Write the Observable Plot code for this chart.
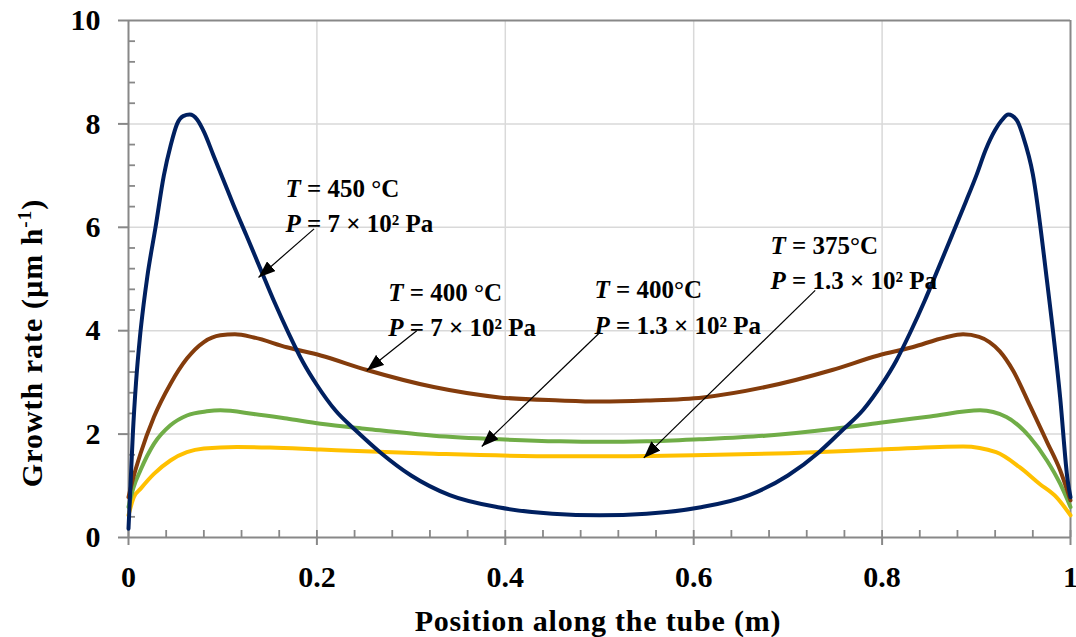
<!DOCTYPE html>
<html><head><meta charset="utf-8">
<script src="https://cdn.jsdelivr.net/npm/d3@7"></script>
<script src="https://cdn.jsdelivr.net/npm/@observablehq/plot@0.6"></script>
<style>
html,body{margin:0;padding:0;background:#fff;}
#chart svg{display:block;}
</style></head><body><div id="chart"></div>
<script>
// ---- data ----
const xTicks = [0, 0.2, 0.4, 0.6, 0.8, 1];
const yTicks = [0, 2, 4, 6, 8, 10];
const xGrid = [0.2, 0.4, 0.6, 0.8];
const yGrid = [2, 4, 6, 8];
const xMinor = d3.range(0, 1.0001, 0.04);
const yMinor = d3.range(0, 10.001, 0.4).filter(v => Math.abs(v / 2 - Math.round(v / 2)) > 0.01);

// T = 450 °C, P = 7 × 10² Pa
const xBlue = [0, 0.0021, 0.0046, 0.008, 0.012, 0.016, 0.02, 0.0287, 0.0375, 0.045, 0.0516, 0.058, 0.065, 0.073, 0.08, 0.09, 0.1, 0.111, 0.125, 0.14, 0.155, 0.17, 0.185, 0.2, 0.22, 0.2425, 0.267, 0.3, 0.341, 0.394, 0.45, 0.5, 0.55, 0.606, 0.659, 0.7, 0.733, 0.7575, 0.78, 0.8, 0.815, 0.83, 0.845, 0.86, 0.875, 0.889, 0.9, 0.91, 0.92, 0.927, 0.934, 0.943, 0.95, 0.96, 0.975, 0.989, 0.997, 1.0];
const yBlue = [0.17, 1.0, 2.0, 3.0, 3.85, 4.5, 5.05, 6.0, 7.0, 7.6, 8.0, 8.15, 8.18, 8.08, 7.85, 7.4, 6.95, 6.45, 5.85, 5.2, 4.55, 3.95, 3.4, 2.95, 2.45, 2.05, 1.65, 1.2, 0.82, 0.58, 0.46, 0.43, 0.46, 0.58, 0.82, 1.2, 1.65, 2.07, 2.47, 2.97, 3.42, 3.97, 4.57, 5.22, 5.88, 6.5, 7.0, 7.5, 7.88, 8.07, 8.18, 8.07, 7.74, 7.03, 4.97, 2.71, 1.10, 0.78];

// T = 400 °C, P = 7 × 10² Pa
const xBrown = [0, 0.005, 0.0127, 0.027, 0.0445, 0.062, 0.08, 0.0975, 0.113, 0.133, 0.168, 0.204, 0.253, 0.324, 0.394, 0.458, 0.5, 0.55, 0.61, 0.676, 0.747, 0.796, 0.832, 0.867, 0.886, 0.903, 0.914, 0.925, 0.939, 0.957, 0.975, 0.989, 1.0];
const yBrown = [0.78, 1.15, 1.62, 2.33, 2.97, 3.46, 3.78, 3.91, 3.93, 3.87, 3.68, 3.52, 3.24, 2.91, 2.71, 2.65, 2.63, 2.65, 2.71, 2.91, 3.24, 3.52, 3.68, 3.87, 3.93, 3.88, 3.78, 3.6, 3.23, 2.55, 1.85, 1.30, 0.72];

// T = 400 °C, P = 1.3 × 10² Pa
const xGreen = [0, 0.005, 0.0127, 0.027, 0.0445, 0.062, 0.083, 0.0975, 0.133, 0.168, 0.204, 0.253, 0.324, 0.394, 0.458, 0.5, 0.55, 0.606, 0.676, 0.747, 0.798, 0.851, 0.904, 0.932, 0.957, 0.975, 0.989, 1.0];
const yGreen = [0.59, 0.95, 1.30, 1.81, 2.17, 2.36, 2.44, 2.46, 2.39, 2.30, 2.20, 2.10, 1.97, 1.90, 1.86, 1.85, 1.86, 1.90, 1.97, 2.10, 2.22, 2.34, 2.46, 2.33, 1.94, 1.49, 1.04, 0.59];

// T = 375 °C, P = 1.3 × 10² Pa
const xYellow = [0, 0.0056, 0.0127, 0.027, 0.0445, 0.062, 0.08, 0.115, 0.15, 0.204, 0.324, 0.458, 0.5, 0.6, 0.7, 0.798, 0.886, 0.921, 0.946, 0.967, 0.985, 1.0];
const yYellow = [0.43, 0.78, 0.94, 1.23, 1.49, 1.65, 1.72, 1.75, 1.74, 1.70, 1.62, 1.57, 1.57, 1.59, 1.63, 1.70, 1.76, 1.65, 1.36, 1.04, 0.78, 0.43];

// annotations (data coordinates)
const noteText = ["T = 450 °C", "P = 7 × 10² Pa", "T = 400 °C", "P = 7 × 10² Pa", "T = 400°C", "P = 1.3 × 10² Pa", "T = 375°C", "P = 1.3 × 10² Pa"];
const noteX = [0.1667, 0.1667, 0.2757, 0.2757, 0.4947, 0.4947, 0.6815, 0.6815];
const noteY = [6.58, 5.90, 4.58, 3.89, 4.64, 3.94, 5.49, 4.81];
const arrowX1 = [0.197, 0.306, 0.499, 0.729];
const arrowY1 = [5.97, 4.0, 3.94, 4.78];
const arrowX2 = [0.138, 0.253, 0.375, 0.547];
const arrowY2 = [5.03, 3.23, 1.76, 1.54];

// ---- build ----
const FONT = "'Liberation Serif', 'Times New Roman', serif";
const rows = (xs, ys) => xs.map((x, i) => ({x, y: ys[i]}));
const notes = noteText.map((t, i) => ({text: t, x: noteX[i], y: noteY[i]}));
const arrows = arrowX1.map((x1, i) => ({x1, y1: arrowY1[i], x2: arrowX2[i], y2: arrowY2[i]}));
const AX = "#888888";
const lineOpts = (c) => ({x: "x", y: "y", stroke: c, strokeWidth: 4, curve: "monotone-x"});

const plot = Plot.plot({
  width: 1076, height: 637,
  marginLeft: 128, marginRight: 6, marginTop: 20, marginBottom: 100,
  style: {fontFamily: FONT, background: "white", overflow: "visible"},
  x: {domain: [0, 1]},
  y: {domain: [0, 10]},
  marks: [
    Plot.gridX(xGrid, {stroke: "#d9d9d9", strokeOpacity: 1, strokeWidth: 1.5}),
    Plot.gridY(yGrid, {stroke: "#d9d9d9", strokeOpacity: 1, strokeWidth: 1.5}),
    Plot.tickX(xMinor, {x: d => d, stroke: AX, strokeWidth: 1.8, insetTop: 510}),
    Plot.tickY(yMinor, {y: d => d, stroke: AX, strokeWidth: 1.8, insetRight: 935}),
    Plot.ruleY([10], {stroke: AX, strokeWidth: 2}),
    Plot.ruleX([1], {stroke: AX, strokeWidth: 2}),
    Plot.ruleX([0], {stroke: AX, strokeWidth: 2}),
    Plot.ruleY([0], {stroke: AX, strokeWidth: 2}),
    Plot.axisX(xTicks, {tickSize: 8, tickPadding: 20, tickFormat: d => String(d), fontSize: 30, fontWeight: "bold", stroke: AX, strokeWidth: 2, fill: "black", label: null}),
    Plot.axisY(yTicks, {tickSize: 10, tickPadding: 18, tickFormat: d => String(d), fontSize: 30, fontWeight: "bold", stroke: AX, strokeWidth: 2, fill: "black", label: null}),
    Plot.line(rows(xYellow, yYellow), lineOpts("#FFC000")),
    Plot.line(rows(xGreen, yGreen), lineOpts("#70AD47")),
    Plot.line(rows(xBrown, yBrown), lineOpts("#843C0C")),
    Plot.line(rows(xBlue, yBlue), lineOpts("#002060")),
    Plot.link(arrows, {x1: "x1", y1: "y1", x2: "x2", y2: "y2", stroke: "black", strokeWidth: 1.2}),
    Plot.text(notes, {x: "x", y: "y", text: "text", textAnchor: "start", lineAnchor: "bottom", fontSize: 25, fontWeight: "bold", fill: "black"})
  ]
});

document.getElementById("chart").appendChild(plot);

// ---- post-process: arrowheads, italics, axis titles ----
const svg = d3.select(plot);
const defs = svg.append("defs");
defs.append("marker").attr("id", "ahead")
  .attr("viewBox", "0 0 17 13").attr("refX", 17).attr("refY", 6.5)
  .attr("markerWidth", 17).attr("markerHeight", 13)
  .attr("markerUnits", "userSpaceOnUse").attr("orient", "auto")
  .append("path").attr("d", "M0,0L17,6.5L0,13Z").attr("fill", "black");
svg.selectAll('g[aria-label="link"] path').attr("marker-end", "url(#ahead)");

svg.selectAll('g[aria-label="text"] text').each(function () {
  const t = this.textContent;
  const m = t.match(/^([TP])( = .*)$/);
  if (m) {
    const el = d3.select(this);
    el.text("");
    el.append("tspan").attr("font-style", "italic").text(m[1]);
    el.append("tspan").text(m[2]);
  }
});

svg.append("text")
  .attr("x", 598).attr("y", 631)
  .attr("text-anchor", "middle")
  .attr("font-family", FONT).attr("font-size", 30).attr("font-weight", "bold")
  .attr("letter-spacing", 0.8).attr("fill", "black")
  .text("Position along the tube (m)");

const yt = svg.append("text")
  .attr("transform", "translate(42,343) rotate(-90)")
  .attr("text-anchor", "middle")
  .attr("font-family", FONT).attr("font-size", 30).attr("font-weight", "bold")
  .attr("letter-spacing", 1).attr("fill", "black");
yt.append("tspan").text("Growth rate (µm h");
yt.append("tspan").attr("font-size", 19).attr("dy", -11).text("-1");
yt.append("tspan").attr("dy", 11).text(")");
</script>
</body></html>
